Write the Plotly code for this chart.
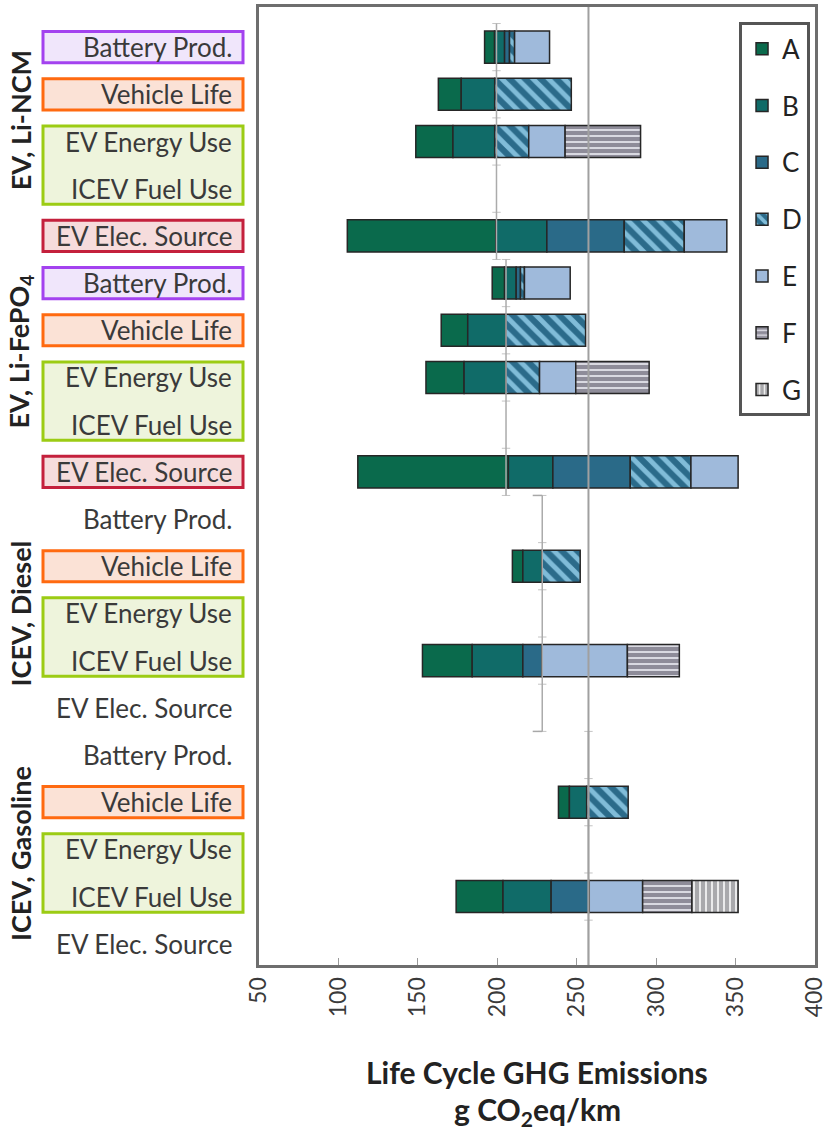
import numpy as np
import plotly.graph_objects as go

# rows, top to bottom (4 vehicle groups x 5 rows)
ROW_LABELS = ["Battery Prod.", "Vehicle Life", "EV Energy Use", "ICEV Fuel Use", "EV Elec. Source"] * 4
GROUP_NAMES = ["EV, Li-NCM", "EV, Li-FePO<sub>4</sub>", "ICEV, Diesel", "ICEV, Gasoline"]
GROUP_AXIS_VALUE = [199.5, 205.5, 228.3, 257.4]
REFERENCE_VALUE = 257.4
X_TICKS = [50, 100, 150, 200, 250, 300, 350, 400]

SERIES = ["A", "B", "C", "D", "E", "F", "G"]
# left end of every bar, g CO2eq/km (None = no bar on that row)
BAR_START = [192.0, 162.9, 148.7, None, 105.6, 196.8, 164.7, 155.1, None, 112.2,
             None, 209.5, None, 152.9, None, None, 238.5, None, 174.1, None]
# segment widths, stacked left to right in A..G order
SEG_A = [6.3, 14.4, 23.4, None, 93.5, 7.8, 16.7, 24.0, None, 94.8,
         None, 6.6, None, 31.3, None, None, 6.9, None, 29.5, None]
SEG_B = [6.3, 21.1, 26.3, None, 32.1, 7.3, 24.0, 26.3, None, 28.0,
         None, 12.1, None, 31.9, None, None, 10.9, None, 30.3, None]
SEG_C = [3.1, 0, 0, None, 48.7, 2.7, 0, 0, None, 48.7,
         None, 0, None, 12.1, None, None, 0, None, 24.0, None]
SEG_D = [3.2, 48.2, 21.4, None, 37.8, 2.5, 50.2, 21.2, None, 38.2,
         None, 24.0, None, 0, None, None, 26.1, None, 0, None]
SEG_E = [22.0, 0, 22.9, None, 26.8, 28.8, 0, 22.8, None, 29.7,
         None, 0, None, 53.7, None, None, 0, None, 33.6, None]
SEG_F = [0, 0, 47.5, None, 0, 0, 0, 46.2, None, 0,
         None, 0, None, 32.7, None, None, 0, None, 31.0, None]
SEG_G = [0, 0, 0, None, 0, 0, 0, 0, None, 0,
         None, 0, None, 0, None, None, 0, None, 29.1, None]

FONT = "Lato, 'Open Sans', sans-serif"
TXT = "#3a3a3a"
OUTLINE = "#262626"

STYLES = {
    "A": dict(color="#0a6a4c"),
    "B": dict(color="#106b68"),
    "C": dict(color="#2a6a88"),
    "D": dict(color="#2b6b8a", pattern=dict(shape="\\", bgcolor="#2b6b8a", fgcolor="#80bcd8",
                                            fgopacity=1, size=11, solidity=0.45)),
    "E": dict(color="#9fbadb"),
    "F": dict(color="#8e8c99", pattern=dict(shape="-", bgcolor="#8e8c99", fgcolor="#e2e2ea",
                                            fgopacity=1, size=6, solidity=0.3)),
    "G": dict(color="#a9a9ac", pattern=dict(shape="|", bgcolor="#a9a9ac", fgcolor="#f2f2f2",
                                            fgopacity=1, size=6, solidity=0.3)),
}

segs = [SEG_A, SEG_B, SEG_C, SEG_D, SEG_E, SEG_F, SEG_G]
rows = np.arange(len(ROW_LABELS))
start = np.array([np.nan if v is None else v for v in BAR_START], dtype=float)
widths = np.array([[np.nan if v is None else v for v in s] for s in segs], dtype=float)
bases = start + np.vstack([np.zeros(len(rows)), np.cumsum(widths, axis=0)[:-1]])

fig = go.Figure()

for k, name in enumerate(SERIES):
    w = widths[k]
    keep = np.nan_to_num(w) > 0
    st = STYLES[name]
    fig.add_trace(go.Bar(
        name=name, orientation="h",
        x=w[keep], y=rows[keep], base=bases[k][keep],
        width=0.68, legendgroup=name,
        marker=dict(color=st["color"], pattern=st.get("pattern"),
                    line=dict(color=OUTLINE, width=1.5)),
        hoverinfo="skip",
    ))

# small per-group category axes with row ticks
for g, val in enumerate(GROUP_AXIS_VALUE):
    lo, hi = g * 5 - 0.5, g * 5 + 4.5
    fig.add_shape(type="line", xref="x", yref="y", x0=val, x1=val, y0=lo, y1=hi,
                  line=dict(color="#ababab", width=1.5), layer="above")
    fig.add_trace(go.Scatter(
        x=[val] * 6, y=np.arange(lo, hi + 0.5, 1.0), mode="markers",
        marker=dict(symbol="line-ew", size=6, line=dict(color="#c4c4c4", width=1)),
        showlegend=False, hoverinfo="skip",
    ))
# bracket ends on the diesel axis
for yb in (9.5, 14.5):
    fig.add_shape(type="line", xref="x", yref="y", x0=GROUP_AXIS_VALUE[2] - 6,
                  x1=GROUP_AXIS_VALUE[2], y0=yb, y1=yb,
                  line=dict(color="#a8a8a8", width=1.5), layer="above")

fig.add_shape(type="line", xref="x", yref="paper", x0=REFERENCE_VALUE, x1=REFERENCE_VALUE,
              y0=0, y1=1, line=dict(color="#a0a0a0", width=2), layer="above")

# left-hand label column lives on x2 (1 unit = 1 px)
fig.add_trace(go.Scatter(x=[None], y=[None], xaxis="x2", yaxis="y", showlegend=False))

BOXES = {
    "purple": ("#a342ef", "#f0e6fb"),
    "orange": ("#ff6a10", "#fbe2d6"),
    "green": ("#9ccc14", "#eef4dc"),
    "red": ("#c4203c", "#f6dcdc"),
}
for g in range(4):
    r0 = g * 5
    boxes = [("orange", r0 + 1, r0 + 1), ("green", r0 + 2, r0 + 3)]
    if g < 2:
        boxes += [("purple", r0, r0), ("red", r0 + 4, r0 + 4)]
    for key, ra, rb in boxes:
        edge, fill = BOXES[key]
        fig.add_shape(type="rect", xref="x2", yref="y", x0=43, x1=243,
                      y0=ra - 0.33, y1=rb + 0.33,
                      line=dict(color=edge, width=3), fillcolor=fill, layer="below")

for r, lab in zip(rows, ROW_LABELS):
    fig.add_annotation(x=234, y=r, xref="x2", yref="y", text=lab, showarrow=False,
                       xanchor="right", yanchor="middle",
                       font=dict(family=FONT, size=26, color=TXT))

GROUP_TITLE_ROW = [1.55, 6.45, 12.0, 17.1]
for name, yr in zip(GROUP_NAMES, GROUP_TITLE_ROW):
    fig.add_annotation(x=20, y=yr, xref="x2", yref="y", text="<b>" + name + "</b>",
                       showarrow=False, textangle=-90, xanchor="center", yanchor="middle",
                       font=dict(family=FONT, size=27, color="#222222"))

fig.add_annotation(x=0.5, y=-0.112, xref="x domain", yref="paper",
                   text="<b>Life Cycle GHG Emissions</b>", showarrow=False,
                   yanchor="middle", font=dict(family=FONT, size=30, color="#222222"))
fig.add_annotation(x=0.5, y=-0.152, xref="x domain", yref="paper",
                   text="<b>g CO<sub>2</sub>eq/km</b>", showarrow=False,
                   yanchor="middle", font=dict(family=FONT, size=30, color="#222222"))

fig.update_layout(
    width=828, height=1135,
    margin=dict(l=0, r=13, t=7, b=170, autoexpand=False),
    paper_bgcolor="white", plot_bgcolor="white",
    barmode="overlay",
    showlegend=True,
    legend=dict(x=0.9939, y=0.984, xanchor="right", yanchor="top",
                bgcolor="white", bordercolor="#555555", borderwidth=3,
                font=dict(family=FONT, size=26, color="#222222"),
                tracegroupgap=20, itemclick=False),
    xaxis=dict(domain=[259 / 815, 1], range=[50, 400], tickvals=X_TICKS,
               tickangle=-90, ticks="inside", ticklen=7, tickcolor="#9a9a9a",
               ticklabeloverflow="allow",
               showgrid=False, zeroline=False,
               showline=True, mirror=True, linecolor="#6e6e6e", linewidth=3,
               tickfont=dict(family=FONT, size=23, color=TXT)),
    xaxis2=dict(domain=[0, 259 / 815], range=[0, 259], anchor="y", visible=False),
    yaxis=dict(range=[19.45, -0.85], showticklabels=False, ticks="",
               showgrid=False, zeroline=False,
               showline=True, mirror=True, linecolor="#6e6e6e", linewidth=3),
)

fig.write_html("out.html", config={"displayModeBar": False},
               post_script="document.body.style.margin = '0px';")
